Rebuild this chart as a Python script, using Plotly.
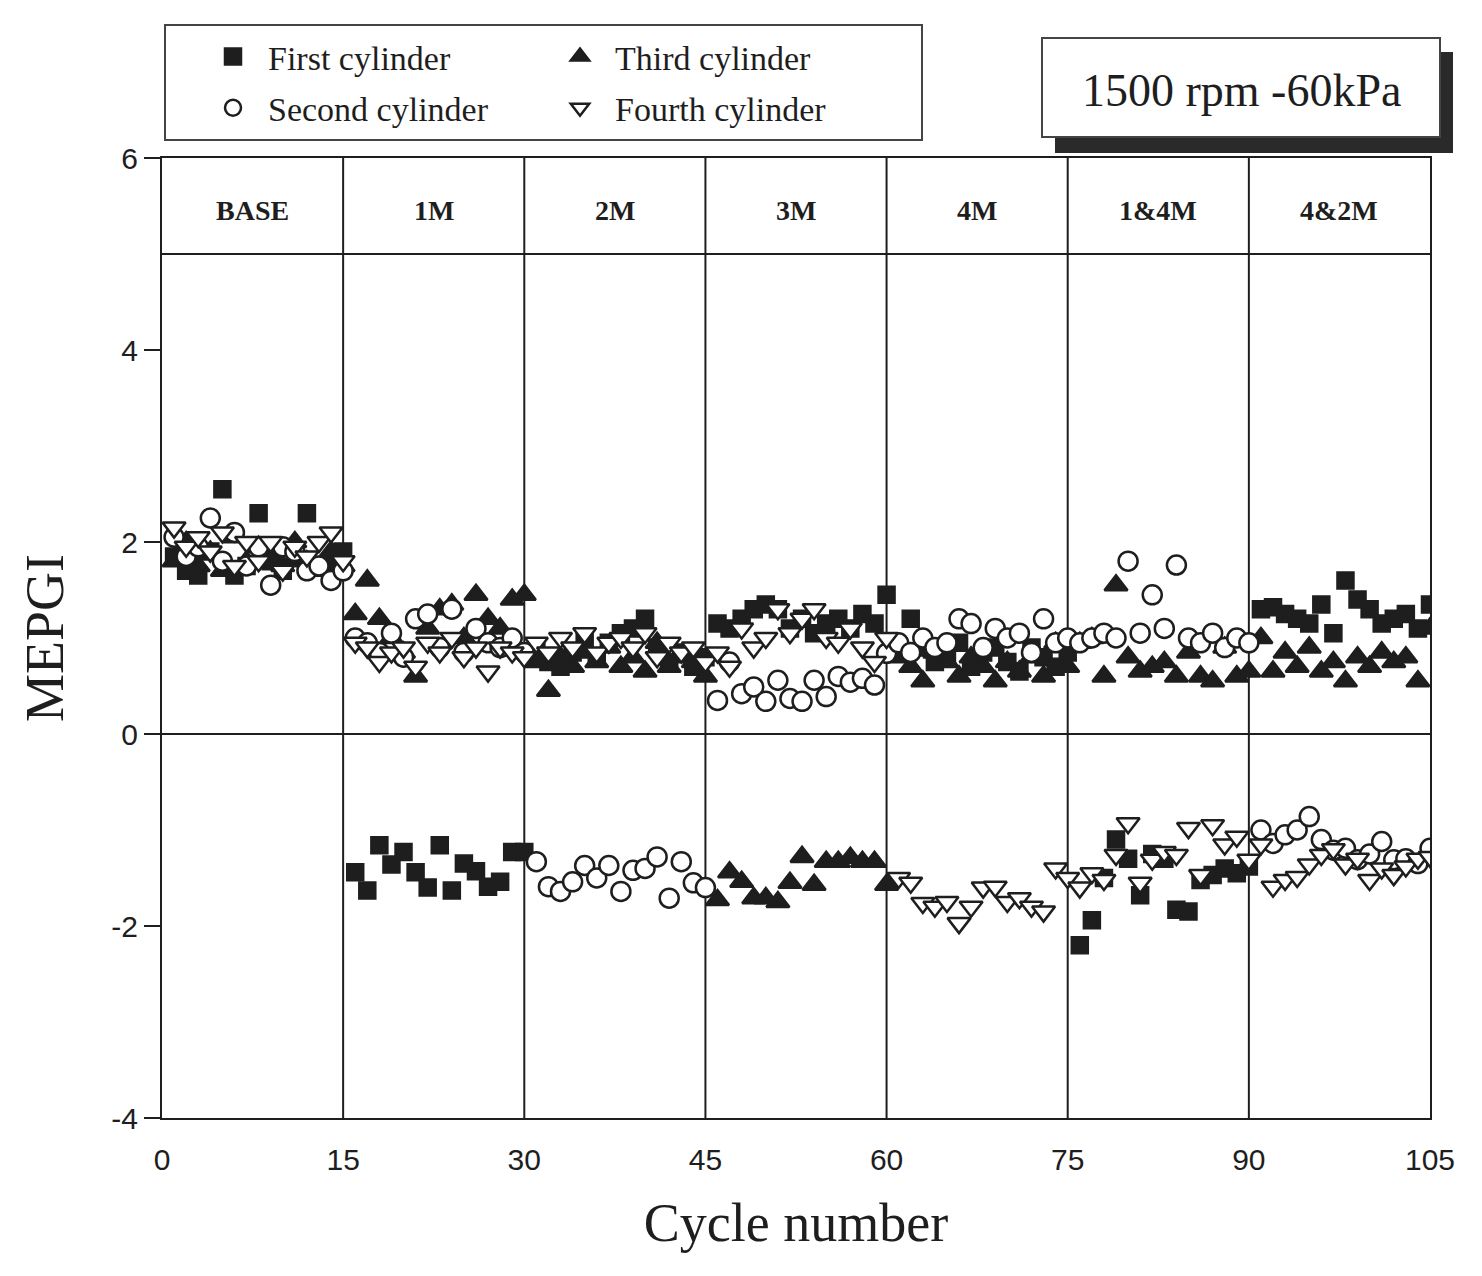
import plotly.graph_objects as go

cycles = list(range(1, 106))

first_cylinder = [
    1.85, 1.7, 1.65, 1.9, 2.55, 1.65, 1.75, 2.3, 1.8, 1.7, 1.85, 2.3, 1.75, 1.8, 1.9,
    -1.44, -1.63, -1.16, -1.36, -1.23, -1.44, -1.6, -1.16, -1.63, -1.35, -1.43, -1.59, -1.54, -1.23, -1.23,
    0.9, 0.75, 0.7, 0.85, 1.0, 0.8, 0.95, 1.05, 1.1, 1.2, 0.9, 0.75, 0.85, 0.7, 0.8,
    1.15, 1.1, 1.2, 1.3, 1.35, 1.3, 1.1, 1.2, 1.05, 1.15, 1.2, 1.1, 1.25, 1.15, 1.45,
    0.85, 1.2, 0.9, 0.75, 0.8, 0.95, 0.7, 0.85, 0.9, 0.75, 0.65, 0.9, 0.8, 0.7, 0.85,
    -2.2, -1.94, -1.5, -1.1, -1.3, -1.68, -1.25, -1.3, -1.83, -1.85, -1.52, -1.47, -1.4, -1.45, -1.38,
    1.3, 1.32, 1.25, 1.2, 1.15, 1.35, 1.05, 1.6, 1.4, 1.3, 1.15, 1.2, 1.25, 1.1, 1.35,
]
second_cylinder = [
    2.05, 1.85, 1.95, 2.25, 1.8, 2.1, 1.75, 1.95, 1.55, 1.95, 1.9, 1.7, 1.75, 1.6, 1.7,
    1.0, 0.95, 0.85, 1.05, 0.8, 1.2, 1.25, 0.9, 1.3, 0.85, 1.1, 0.95, 0.9, 1.0, 0.85,
    -1.33, -1.59, -1.64, -1.54, -1.37, -1.5, -1.37, -1.64, -1.42, -1.4, -1.28, -1.71, -1.33, -1.55, -1.6,
    0.35, 0.75, 0.42, 0.49, 0.34, 0.56, 0.37, 0.34, 0.56, 0.39, 0.6, 0.54, 0.58, 0.51, 0.84,
    0.95, 0.85, 1.0, 0.9, 0.95, 1.2, 1.15, 0.9, 1.1, 1.0, 1.05, 0.85, 1.2, 0.95, 1.0,
    0.95, 1.0, 1.05, 1.0, 1.8, 1.05, 1.45, 1.1, 1.76, 1.0, 0.95, 1.05, 0.9, 1.0, 0.95,
    -1.0, -1.14, -1.05, -1.0, -0.86, -1.1, -1.21, -1.19, -1.31, -1.25, -1.12, -1.31, -1.3, -1.35, -1.19,
]
third_cylinder = [
    1.8, 2.0, 1.75, 1.9, 1.7, 2.05, 1.8, 1.95, 1.85, 1.75, 2.0, 1.8, 1.7, 1.9, 1.75,
    1.25, 1.6, 1.2, 1.0, 0.85, 0.6, 1.1, 1.3, 1.35, 1.0, 1.45, 1.2, 1.1, 1.4, 1.45,
    0.75, 0.45, 0.8, 0.7, 0.85, 0.75, 0.9, 0.7, 0.8, 0.65, 0.95, 0.7, 0.8, 0.75, 0.6,
    -1.73, -1.44, -1.54, -1.71, -1.71, -1.75, -1.55, -1.28, -1.57, -1.33, -1.33, -1.29, -1.33, -1.33, -1.57,
    0.8, 0.7, 0.55, 0.85, 0.75, 0.6, 0.8, 0.7, 0.55, 0.75, 0.65, 0.8, 0.6, 0.95, 0.7,
    0.95, 1.0, 0.6, 1.55, 0.8, 0.65, 0.7, 0.75, 0.6, 0.85, 0.6, 0.55, 0.9, 0.6, 0.65,
    1.0, 0.65, 0.85, 0.7, 0.9, 0.65, 0.75, 0.55, 0.8, 0.7, 0.85, 0.75, 0.8, 0.55, 1.1,
]
fourth_cylinder = [
    2.15, 1.95, 2.05, 1.9, 2.1, 1.75, 2.0, 1.8, 2.0, 1.7, 1.95, 1.85, 2.0, 2.1, 1.8,
    0.95, 0.9, 0.75, 0.85, 0.9, 0.7, 0.95, 0.85, 1.0, 0.8, 0.9, 0.65, 0.9, 0.85, 0.8,
    0.95, 0.85, 1.0, 0.9, 1.05, 0.85, 0.95, 1.0, 0.9, 1.05, 0.8, 0.95, 0.85, 0.9, 0.75,
    0.85, 0.7, 1.1, 0.9, 1.0, 1.3, 1.05, 1.2, 1.3, 1.0, 0.95, 1.1, 0.9, 0.75, 1.0,
    -1.5, -1.55, -1.76, -1.8, -1.75, -1.97, -1.8, -1.6, -1.59, -1.75, -1.71, -1.8, -1.85, -1.4, -1.5,
    -1.6, -1.45, -1.52, -1.26, -0.93, -1.55, -1.31, -1.23, -1.26, -0.98, -1.47, -0.95, -1.15, -1.07, -1.31,
    -1.15, -1.59, -1.52, -1.49, -1.36, -1.26, -1.2, -1.36, -1.3, -1.52, -1.4, -1.47, -1.38, -1.3, -1.28,
]

segment_bounds = [15, 30, 45, 60, 75, 90]
segment_labels = ["BASE", "1M", "2M", "3M", "4M", "1&4M", "4&2M"]
segment_centers = [7.5, 22.5, 37.5, 52.5, 67.5, 82.5, 97.5]
x_ticks = [0, 15, 30, 45, 60, 75, 90, 105]
y_ticks = [-4, -2, 0, 2, 4, 6]
y_tick_text = ["-4", "-2", "0", "2", "4", "6"]

INK = "#1e1e1e"
SERIF = "Liberation Serif, Times New Roman, serif"
SANS = "Liberation Sans, Arial, sans-serif"

W, H = 1482, 1276
L, R, T, B = 162, 52, 158, 158
PW, PH = W - L - R, H - T - B


def px(x):
    return (x - L) / PW


def py(y):
    return (H - B - y) / PH


fig = go.Figure()

series = [
    ("First cylinder", first_cylinder, "square", INK, 16, "legend", 1),
    ("Third cylinder", third_cylinder, "triangle-up", INK, 20, "legend2", 3),
    ("Second cylinder", second_cylinder, "circle", "white", 19, "legend", 2),
    ("Fourth cylinder", fourth_cylinder, "triangle-down", "white", 20, "legend2", 4),
]
for name, vals, sym, fill, size, leg, rank in series:
    fig.add_trace(go.Scatter(
        x=cycles, y=vals, mode="markers", name=name,
        marker=dict(symbol=sym, size=size, color=fill,
                    line=dict(color=INK, width=2.5)),
        legend=leg, legendrank=rank, legendgroup=name,
    ))

shapes = []
for xb in segment_bounds:
    shapes.append(dict(type="line", xref="x", yref="y", x0=xb, x1=xb, y0=-4, y1=6,
                       line=dict(color=INK, width=2), layer="below"))
for yb in [5, 0]:
    shapes.append(dict(type="line", xref="x", yref="y", x0=0, x1=105, y0=yb, y1=yb,
                       line=dict(color=INK, width=2), layer="below"))
# legend frame
shapes.append(dict(type="rect", xref="paper", yref="paper",
                   x0=px(165), x1=px(922), y0=py(140), y1=py(25),
                   line=dict(color="#444", width=2), fillcolor="white", layer="below"))
# condition box with shadow
shapes.append(dict(type="rect", xref="paper", yref="paper",
                   x0=px(1055), x1=px(1453), y0=py(153), y1=py(52),
                   line=dict(width=0), fillcolor="#2a2a2a", layer="below"))
shapes.append(dict(type="rect", xref="paper", yref="paper",
                   x0=px(1042), x1=px(1440), y0=py(137), y1=py(38),
                   line=dict(color="#444", width=2), fillcolor="white", layer="below"))

annotations = []
for lab, cx in zip(segment_labels, segment_centers):
    annotations.append(dict(x=cx, y=5.45, xref="x", yref="y", text="<b>" + lab + "</b>",
                            showarrow=False, font=dict(family=SERIF, size=28, color=INK)))
annotations.append(dict(x=px(1241), y=py(90), xref="paper", yref="paper",
                        xanchor="center", yanchor="middle",
                        text="1500 rpm -60kPa", showarrow=False,
                        font=dict(family=SERIF, size=46, color=INK)))

fig.update_layout(
    width=W, height=H,
    margin=dict(l=L, r=R, t=T, b=B),
    paper_bgcolor="white", plot_bgcolor="rgba(0,0,0,0)",
    shapes=shapes, annotations=annotations,
    legend=dict(x=px(198), y=py(28), xanchor="left", yanchor="top",
                bgcolor="rgba(0,0,0,0)", font=dict(family=SERIF, size=34, color=INK),
                tracegroupgap=4, itemwidth=60),
    legend2=dict(x=px(545), y=py(28), xanchor="left", yanchor="top",
                 bgcolor="rgba(0,0,0,0)", font=dict(family=SERIF, size=34, color=INK),
                 tracegroupgap=4, itemwidth=60),
    xaxis=dict(range=[0, 105], tickvals=x_ticks, ticks="", showgrid=False, zeroline=False,
               showline=True, linecolor=INK, linewidth=2, mirror=True,
               tickfont=dict(family=SANS, size=30, color=INK), ticklabelstandoff=14,
               title=dict(text="Cycle number", font=dict(family=SERIF, size=54, color=INK),
                          standoff=28)),
    yaxis=dict(range=[-4, 6], tickvals=y_ticks, ticktext=y_tick_text,
               ticks="outside", ticklen=16, tickwidth=2,
               tickcolor=INK, showgrid=False, zeroline=False,
               showline=True, linecolor=INK, linewidth=2, mirror=True,
               tickfont=dict(family=SANS, size=30, color=INK),
               title=dict(text="MEPGI", font=dict(family=SERIF, size=54, color=INK),
                          standoff=30)),
    showlegend=True,
)

fig.write_html("out.html")
